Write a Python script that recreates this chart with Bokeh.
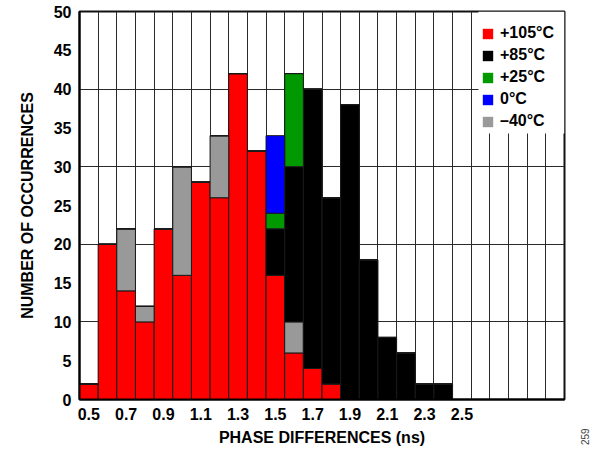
import math
from bokeh.plotting import figure
from bokeh.layouts import row
from bokeh.models import (Range1d, FixedTicker, Legend, LegendItem, Div,
                          ColumnDataSource, BoxAnnotation)
from bokeh.embed import file_html
from bokeh.resources import INLINE

# ---- data (stacked counts per 0.1 ns bin) ----
bin_centers = [0.5, 0.6, 0.7, 0.8, 0.9, 1.0, 1.1, 1.2, 1.3, 1.4,
               1.5, 1.6, 1.7, 1.8, 1.9, 2.0, 2.1, 2.2, 2.3, 2.4]
c_p105 = [2, 20, 14, 10, 22, 16, 28, 26, 42, 32, 16, 6, 4, 2, 0, 0, 0, 0, 0, 0]
c_m40 = [0, 0, 8, 2, 0, 14, 0, 8, 0, 0, 0, 4, 0, 0, 0, 0, 0, 0, 0, 0]
c_p85 = [0, 0, 0, 0, 0, 0, 0, 0, 0, 0, 6, 20, 36, 24, 38, 18, 8, 6, 2, 2]
c_p25 = [0, 0, 0, 0, 0, 0, 0, 0, 0, 0, 2, 12, 0, 0, 0, 0, 0, 0, 0, 0]
c_0 = [0, 0, 0, 0, 0, 0, 0, 0, 0, 0, 10, 0, 0, 0, 0, 0, 0, 0, 0, 0]

series_keys = ["p105", "m40", "p85", "p25", "z0"]
series_colors = ["#FF0000", "#999999", "#000000", "#009900", "#0000FF"]

legend_labels = ["+105°C", "+85°C", "+25°C", "0°C", "\u201340°C"]
legend_colors = ["#FF0000", "#000000", "#009900", "#0000FF", "#999999"]

x_tick_values = [0.5, 0.7, 0.9, 1.1, 1.3, 1.5, 1.7, 1.9, 2.1, 2.3, 2.5]
x_tick_labels = ["0.5", "0.7", "0.9", "1.1", "1.3", "1.5", "1.7", "1.9", "2.1", "2.3", "2.5"]
y_tick_values = [0, 5, 10, 15, 20, 25, 30, 35, 40, 45, 50]

figure_id = "259"

BIN_W = 0.1
X_MIN, X_MAX = 0.45, 3.05
FONT = "Liberation Sans"
FS = "16px"
MAIN_W, SIDE_W, H = 580, 24, 453

source = ColumnDataSource(dict(x=bin_centers, p105=c_p105, m40=c_m40,
                               p85=c_p85, p25=c_p25, z0=c_0,
                               zero=[0] * len(bin_centers)))

p = figure(width=MAIN_W, height=H, output_backend="svg", toolbar_location=None,
           x_range=Range1d(X_MIN, X_MAX), y_range=Range1d(0, 50),
           min_border_left=79, min_border_top=11, min_border_right=MAIN_W - 564,
           min_border_bottom=54)
p.background_fill_color = "white"
p.border_fill_color = "white"
p.outline_line_color = "#111111"
p.outline_line_width = 2

p.vbar_stack(series_keys, x="x", width=BIN_W, source=source,
             fill_color=series_colors, line_color="#1a1a1a", line_width=1)

# grid: vertical lines at every bin edge, horizontal every 10
n_edges = int(round((X_MAX - X_MIN) / BIN_W)) - 1
edges = [round(X_MIN + BIN_W * (i + 1), 3) for i in range(n_edges)]
p.xgrid.ticker = FixedTicker(ticks=edges)
p.ygrid.ticker = FixedTicker(ticks=[10, 20, 30, 40])
for g in (p.xgrid, p.ygrid):
    g.grid_line_color = "#2a2a2a"
    g.grid_line_width = 1

# axes
p.xaxis.ticker = FixedTicker(ticks=x_tick_values)
p.xaxis.major_label_overrides = {v: s for v, s in zip(x_tick_values, x_tick_labels)}
p.yaxis.ticker = FixedTicker(ticks=y_tick_values)
for ax in (p.xaxis, p.yaxis):
    ax.axis_line_color = "black"
    ax.axis_line_width = 2
    ax.major_tick_line_color = None
    ax.minor_tick_line_color = None
    ax.major_label_text_font = FONT
    ax.major_label_text_font_style = "bold"
    ax.major_label_text_font_size = FS
    ax.major_label_text_color = "black"
    ax.axis_label_text_font = FONT
    ax.axis_label_text_font_style = "bold"
    ax.axis_label_text_font_size = FS
    ax.axis_label_text_color = "black"
p.xaxis.axis_label = "PHASE DIFFERENCES (ns)"
p.yaxis.axis_label = "NUMBER OF OCCURRENCES"
p.xaxis.major_label_standoff = 2
p.xaxis.axis_label_standoff = 6
p.yaxis.major_label_standoff = 2
p.yaxis.axis_label_standoff = 15

# white panel behind the legend (hides grid lines up to the frame top)
p.add_layout(BoxAnnotation(left=(478 - 79), right=(564 - 79), top=(399 - 11),
                           bottom=(399 - 133), left_units="screen",
                           right_units="screen", top_units="screen",
                           bottom_units="screen", fill_color="white",
                           fill_alpha=1, line_color=None))

# legend (proxy swatches without outline: zero-height bars, invisible)
items = []
for lab, col in zip(legend_labels, legend_colors):
    r = p.vbar(x="x", top="zero", width=BIN_W, source=source,
               fill_color=col, line_color=None)
    items.append(LegendItem(label=lab, renderers=[r]))
legend = Legend(items=items, location=(481 - 79, 399 - 131))
legend.background_fill_color = "white"
legend.background_fill_alpha = 1
legend.border_line_color = None
legend.margin = 0
legend.padding = 4
legend.spacing = 2
legend.glyph_width = 13
legend.glyph_height = 13
legend.label_height = 20
legend.label_standoff = 6
legend.label_text_font = FONT
legend.label_text_font_style = "bold"
legend.label_text_font_size = FS
legend.label_text_color = "black"
p.add_layout(legend, "center")

# narrow side strip carrying the rotated figure number
side_html = (
    f'<div style="position:relative;width:{SIDE_W}px;height:{H}px;">'
    '<span style="position:absolute;left:0px;top:445px;'
    'transform-origin:0 0;transform:rotate(-90deg);'
    "font-family:'Liberation Sans';font-size:10px;line-height:12px;"
    f'color:#444444;white-space:nowrap;">{figure_id}</span></div>'
)
side = Div(text=side_html, width=SIDE_W, height=H, margin=0)

layout = row(p, side, spacing=0)
open("out.html", "w").write(file_html(layout, INLINE))
